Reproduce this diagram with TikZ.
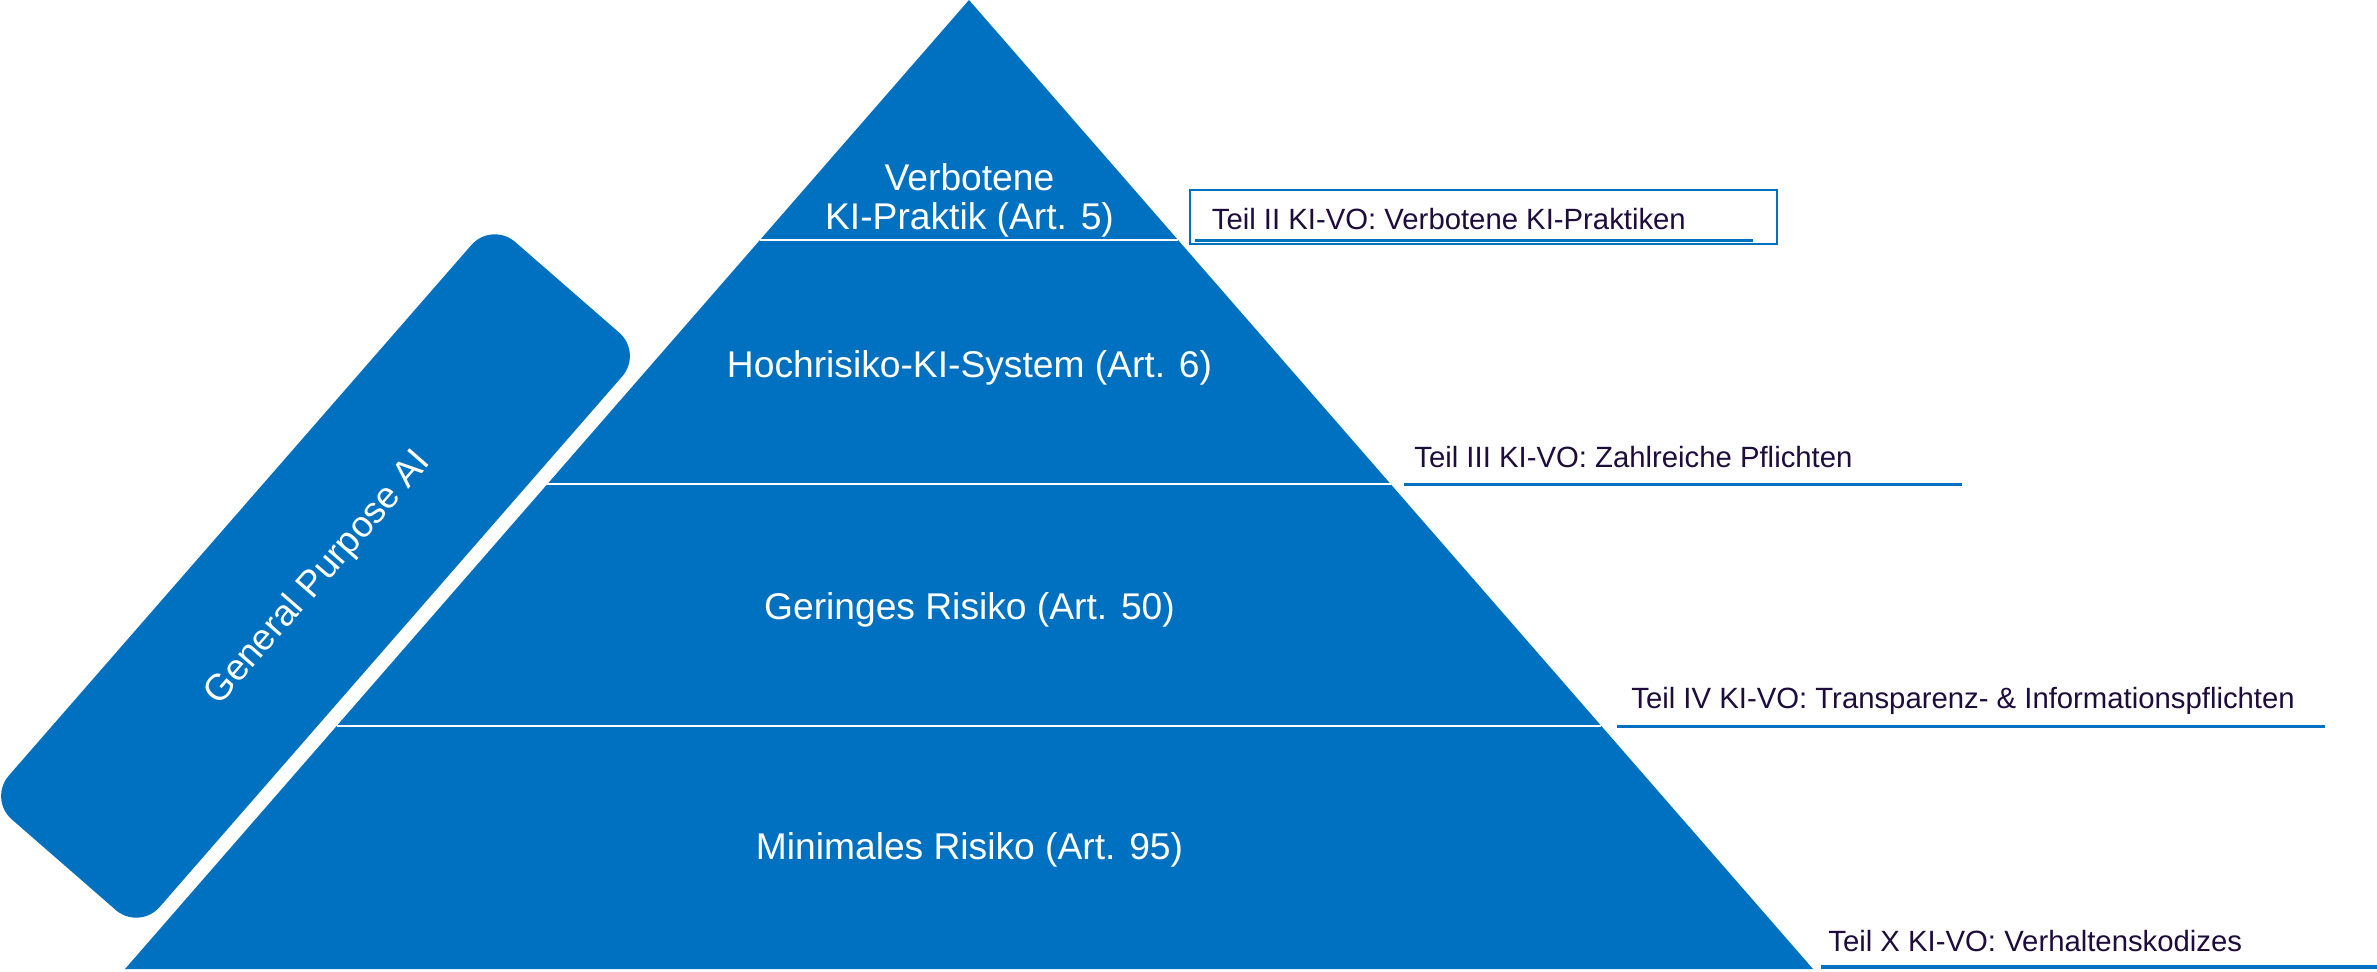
\documentclass[tikz,border=0pt]{standalone}
\usepackage{fontspec}
\setmainfont{Liberation Sans}
\definecolor{kiblue}{RGB}{0,112,192}
\definecolor{kitext}{RGB}{30,12,60}
\begin{document}
\begin{tikzpicture}[x=0.5pt,y=-0.5pt,
  pyrlabel/.style={text=white, inner sep=0pt, anchor=base, font=\fontsize{18.6}{19.3}\selectfont},
  teillabel/.style={text=kitext, inner sep=0pt, anchor=base west, font=\fontsize{14.65}{17}\selectfont},
  teilline/.style={draw=kiblue, line width=1.6pt},
  divider/.style={draw=white, line width=1.25pt}]
\useasboundingbox (0,0) rectangle (2377,971);
\fill[white] (0,0) rectangle (2377,971);
% pyramid
\coordinate (apex) at (969,0);
\coordinate (bl) at (125,969);
\coordinate (br) at (1813,969);
\fill[kiblue] (apex) -- (br) -- (bl) -- cycle;
% dividers
\coordinate (d1l) at (760,240);   \coordinate (d1r) at (1178,240);
\coordinate (d2l) at (547.4,484); \coordinate (d2r) at (1390.6,484);
\coordinate (d3l) at (336.6,726); \coordinate (d3r) at (1601.4,726);
\draw[divider] (d1l) -- (d1r);
\draw[divider] (d2l) -- (d2r);
\draw[divider] (d3l) -- (d3r);
% pyramid labels
\node[pyrlabel] (l1a) at (969.5,190.7) {Verbotene};
\node[pyrlabel] (l1b) at (969.5,229.3) {KI-Praktik (Art. 5)};
\node[pyrlabel] (l2) at (969.5,377.3) {Hochrisiko-KI-System (Art. 6)};
\node[pyrlabel] (l3) at (969.5,619.3) {Geringes Risiko (Art. 50)};
\node[pyrlabel] (l4) at (969.5,859.5) {Minimales Risiko (Art. 95)};
% General Purpose AI box
\coordinate (g1) at (642.6,353.0);
\coordinate (g2) at (491.8,221.6);
\coordinate (g3) at (-11.6,799.0);
\coordinate (g4) at (139.2,930.4);
\fill[kiblue, rounded corners=15.5pt] (g1) -- (g2) -- (g3) -- (g4) -- cycle;
\node[text=white, inner sep=0pt, anchor=base, rotate=48.9, font=\fontsize{18.4}{20}\selectfont] (gpai) at (325.5,584.7) {General Purpose AI};
% Teil II box
\coordinate (b1) at (1190,190);
\coordinate (b2) at (1777,243.5);
\draw[kiblue, line width=1pt] (b1) rectangle (b2);
\coordinate (u1a) at (1195,240.3); \coordinate (u1b) at (1753,240.3);
\draw[teilline, line width=1.5pt] (u1a) -- (u1b);
\node[teillabel] (t1) at (1211.5,229.3) {Teil II KI-VO: Verbotene KI-Praktiken};
% Teil III
\coordinate (u2a) at (1404,484.5); \coordinate (u2b) at (1962,484.5);
\draw[teilline] (u2a) -- (u2b);
\node[teillabel] (t2) at (1414,467.7) {Teil III KI-VO: Zahlreiche Pflichten};
% Teil IV
\coordinate (u3a) at (1617,726.5); \coordinate (u3b) at (2325,726.5);
\draw[teilline] (u3a) -- (u3b);
\node[teillabel] (t3) at (1631,708.3) {Teil IV KI-VO: Transparenz- \& Informationspflichten};
% Teil X
\coordinate (u4a) at (1821,967); \coordinate (u4b) at (2377,967);
\draw[teilline] (u4a) -- (u4b);
\node[teillabel] (t4) at (1828,951) {Teil X KI-VO: Verhaltenskodizes};
\end{tikzpicture}
\end{document}
